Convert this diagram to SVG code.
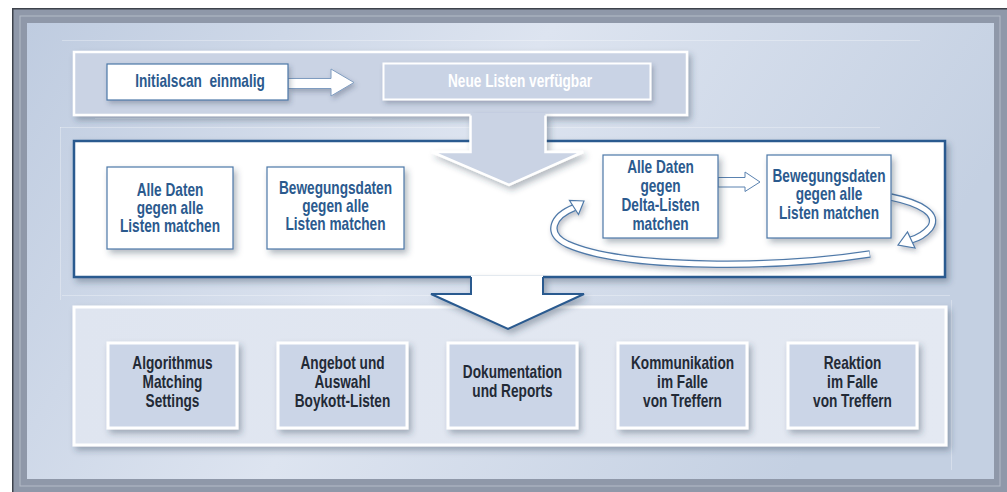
<svg xmlns="http://www.w3.org/2000/svg" width="1007" height="492" viewBox="0 0 1007 492">
<defs>
<linearGradient id="bg" x1="0" y1="0" x2="1" y2="0.3">
<stop offset="0" stop-color="#bfcce0"/>
<stop offset="0.5" stop-color="#dde4f0"/>
<stop offset="1" stop-color="#c4d0e2"/>
</linearGradient>
<linearGradient id="lowband" x1="0" y1="0" x2="1" y2="0">
<stop offset="0" stop-color="#dfe5f0"/>
<stop offset="1" stop-color="#e4e9f2"/>
</linearGradient>
<filter id="sh" x="-20%" y="-20%" width="150%" height="160%">
<feDropShadow dx="3" dy="4" stdDeviation="3" flood-color="#2e3a50" flood-opacity="0.35"/>
</filter>
<filter id="shs" x="-20%" y="-20%" width="150%" height="160%">
<feDropShadow dx="2" dy="3" stdDeviation="2.5" flood-color="#2e3a50" flood-opacity="0.3"/>
</filter>
<style>
.t{font-family:"Liberation Sans",Arial,sans-serif;font-weight:bold;font-size:17.5px;text-anchor:middle}
.blue{fill:#2b5a8e}
.dark{fill:#232a36}
.wht{fill:#ffffff}
.wbox{fill:#ffffff;stroke:#4c77a7;stroke-width:1.2}
.gbox{fill:#cbd5e7;stroke:#ffffff;stroke-width:3}
.band-out{fill:none;stroke:#4f79a8;stroke-width:7.5;stroke-linecap:butt}
.band-in{fill:none;stroke:#ffffff;stroke-width:5;stroke-linecap:butt}
.head{fill:#ffffff;stroke:#4f79a8;stroke-width:1.2;stroke-linejoin:miter}
</style>
</defs>

<!-- frame -->
<rect x="0" y="0" width="1007" height="492" fill="#ffffff"/>
<rect x="12" y="8" width="995" height="484" fill="#3d424b"/>
<rect x="13.5" y="9.5" width="993.5" height="482.5" fill="#8f98a9"/>
<rect x="20" y="16" width="980" height="470" fill="none" stroke="#b4bbc8" stroke-width="1"/>
<rect x="27" y="23" width="967" height="456" fill="url(#bg)"/>
<g stroke="#ffffff" stroke-opacity="0.3" stroke-width="1" fill="none">
<path d="M62 40.5 H920"/>
<path d="M95 118.5 H372"/>
<path d="M60 127.5 H880"/>
<path d="M62 295.5 H950"/>
<path d="M60.5 127 V300"/>
<path d="M951.5 300 V470"/>
</g>

<!-- top band -->
<g id="top-band">
<rect x="74" y="52" width="613" height="63" fill="#cad3e4" stroke="#ffffff" stroke-width="2.5" filter="url(#sh)"/>
</g>

<!-- middle band -->
<g id="middle-band">
<rect x="74" y="141" width="871" height="136" fill="#ffffff" stroke="#2a5a8f" stroke-width="2.5" filter="url(#sh)"/>
</g>

<!-- bottom band -->
<g id="bottom-band">
<rect x="74" y="307" width="872" height="138" fill="url(#lowband)" stroke="#ffffff" stroke-width="3" filter="url(#sh)"/>
</g>

<!-- connectors -->
<g id="connectors">
<g filter="url(#sh)">
<polygon points="470.5,113 470.5,152 432,152 509,185 583,152 545.5,152 545.5,113" fill="#cad3e4"/>
<polyline points="470.5,115.5 470.5,152 432,152 509,185 583,152 545.5,152 545.5,115.5" fill="none" stroke="#ffffff" stroke-width="2.5"/>
</g>
<polygon points="288,78.5 331,78.5 331,69 354,82.5 331,96 331,88.5 288,88.5" fill="#ffffff" stroke="#7f9cc0" stroke-width="1" filter="url(#shs)"/>
<polygon points="718,177.5 745,177.5 745,172 760,182 745,191.5 745,187 718,187" fill="#ffffff" stroke="#5a82b0" stroke-width="1"/>
<g filter="url(#shs)">
<path class="band-out" d="M870 254 C780 268 625 270 567 244 C545 233 553 216 574.5 207.5"/>
<path class="band-in" d="M869.5 254 C780 268 625 270 567 244 C545 233 553 216 574.5 207.5"/>
<polygon class="head" points="584,201 578.5,214.5 569.5,200.5"/>
<path class="band-out" d="M891 197 C920 203 940 214 930 228 C924 235 918 238 911 240"/>
<path class="band-in" d="M890 197 C920 203 940 214 930 228 C924 235 918 238 911 240"/>
<polygon class="head" points="898,245 907.5,232 915,248"/>
</g>
<g filter="url(#sh)">
<polygon points="471,275.5 471,294 431,294 508,329 584,294 543,294 543,275.5" fill="#ffffff"/>
<polyline points="471,277 471,294 431,294 508,329 584,294 543,294 543,277" fill="none" stroke="#2a5a8f" stroke-width="2"/>
</g>
</g>

<!-- nodes top -->
<g id="n-initialscan">
<rect x="107" y="64" width="181" height="36" class="wbox" stroke="#7391b6" filter="url(#shs)"/>
<g transform="translate(200 0) scale(0.78 1)">
<text class="t blue" x="0" y="87" xml:space="preserve">Initialscan  einmalig</text>
</g>
</g>
<g id="n-neue-listen">
<rect x="383.5" y="63.5" width="267" height="36" fill="#c9d3e5" stroke="#ffffff" stroke-width="2" filter="url(#shs)"/>
<g transform="translate(520 0) scale(0.78 1)">
<text class="t wht" x="0" y="87" font-size="18.5">Neue Listen verfügbar</text>
</g>
</g>

<!-- nodes middle -->
<g id="n-alle-daten">
<rect x="107" y="167" width="126" height="82" class="wbox" filter="url(#sh)"/>
<g transform="translate(170 0) scale(0.78 1)">
<text class="t blue" x="0" y="196">Alle Daten</text>
<text class="t blue" x="0" y="214">gegen alle</text>
<text class="t blue" x="0" y="232">Listen matchen</text>
</g>
</g>
<g id="n-bewegungsdaten">
<rect x="267" y="167" width="137" height="82" class="wbox" filter="url(#sh)"/>
<g transform="translate(335.5 0) scale(0.78 1)">
<text class="t blue" x="0" y="194">Bewegungsdaten</text>
<text class="t blue" x="0" y="212">gegen alle</text>
<text class="t blue" x="0" y="230.5">Listen matchen</text>
</g>
</g>
<g id="n-delta">
<rect x="603" y="155" width="115" height="83" class="wbox" filter="url(#sh)"/>
<g transform="translate(660.5 0) scale(0.78 1)">
<text class="t blue" x="0" y="173.5">Alle Daten</text>
<text class="t blue" x="0" y="192">gegen</text>
<text class="t blue" x="0" y="211.5">Delta-Listen</text>
<text class="t blue" x="0" y="230">matchen</text>
</g>
</g>
<g id="n-bewegungsdaten2">
<rect x="767" y="155" width="124" height="83" class="wbox" filter="url(#sh)"/>
<g transform="translate(829 0) scale(0.78 1)">
<text class="t blue" x="0" y="182">Bewegungsdaten</text>
<text class="t blue" x="0" y="200.5">gegen alle</text>
<text class="t blue" x="0" y="219">Listen matchen</text>
</g>
</g>

<!-- nodes bottom -->
<g id="n-algorithmus">
<rect x="108" y="343" width="129" height="85" class="gbox" filter="url(#sh)"/>
<g transform="translate(172.5 0) scale(0.78 1)">
<text class="t dark" x="0" y="369.5">Algorithmus</text>
<text class="t dark" x="0" y="388.5">Matching</text>
<text class="t dark" x="0" y="407.5">Settings</text>
</g>
</g>
<g id="n-angebot">
<rect x="278" y="343" width="129" height="85" class="gbox" filter="url(#sh)"/>
<g transform="translate(342.5 0) scale(0.78 1)">
<text class="t dark" x="0" y="369.5">Angebot und</text>
<text class="t dark" x="0" y="388.5">Auswahl</text>
<text class="t dark" x="0" y="407.5">Boykott-Listen</text>
</g>
</g>
<g id="n-dokumentation">
<rect x="448" y="343" width="129" height="85" class="gbox" filter="url(#sh)"/>
<g transform="translate(512.5 0) scale(0.78 1)">
<text class="t dark" x="0" y="378.5">Dokumentation</text>
<text class="t dark" x="0" y="397.5">und Reports</text>
</g>
</g>
<g id="n-kommunikation">
<rect x="618" y="343" width="129" height="85" class="gbox" filter="url(#sh)"/>
<g transform="translate(682.5 0) scale(0.78 1)">
<text class="t dark" x="0" y="369.5">Kommunikation</text>
<text class="t dark" x="0" y="388.5">im Falle</text>
<text class="t dark" x="0" y="407.5">von Treffern</text>
</g>
</g>
<g id="n-reaktion">
<rect x="788" y="343" width="129" height="85" class="gbox" filter="url(#sh)"/>
<g transform="translate(852.5 0) scale(0.78 1)">
<text class="t dark" x="0" y="369.5">Reaktion</text>
<text class="t dark" x="0" y="388.5">im Falle</text>
<text class="t dark" x="0" y="407.5">von Treffern</text>
</g>
</g>
</svg>
